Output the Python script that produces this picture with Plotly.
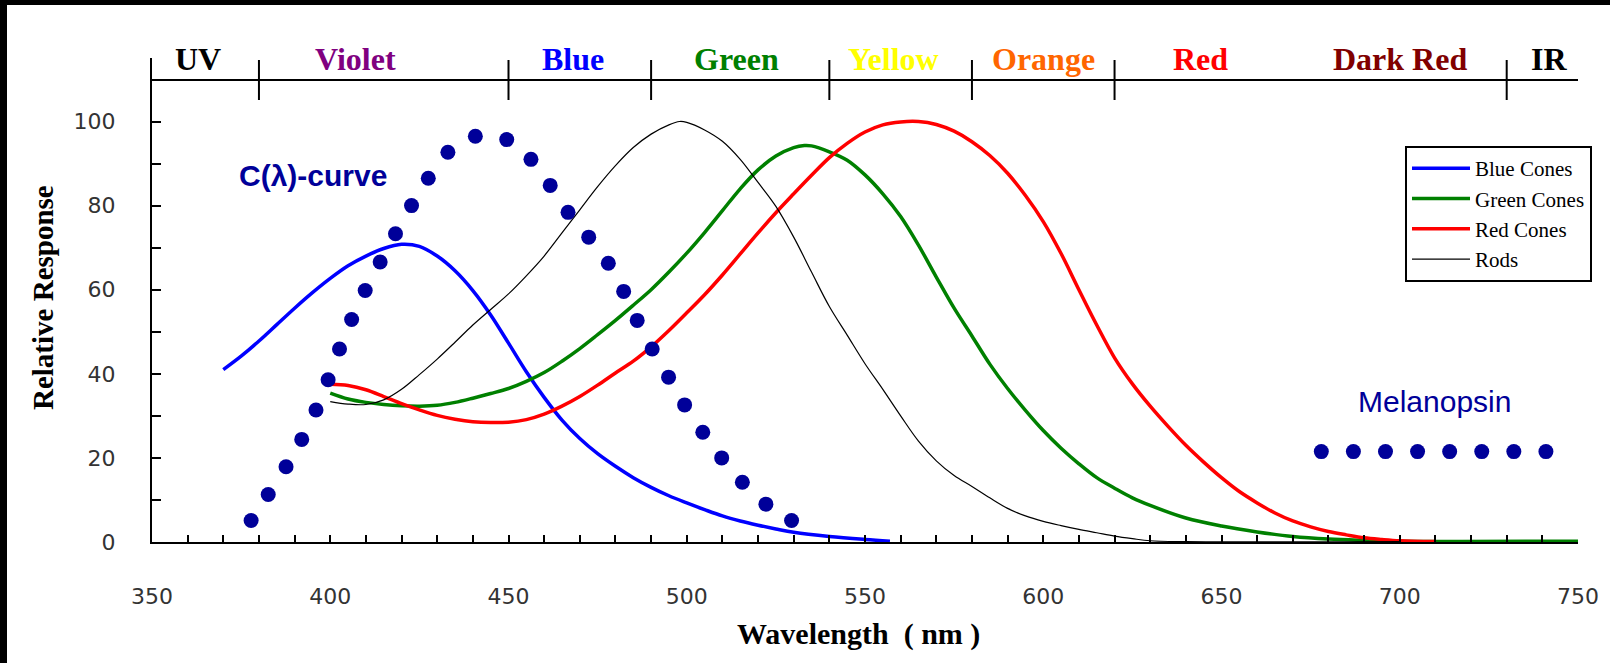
import plotly.graph_objects as go

# ---------------- data ----------------
blue_nm = [370, 375, 380, 385, 390, 395, 400, 405, 410, 415, 420, 425, 430, 435, 440, 445, 450, 455, 460, 465, 470, 475, 480, 485, 490, 495, 500, 505, 510, 515, 520, 525, 530, 540, 550, 557]
blue_val = [41.0, 44.2, 47.8, 51.7, 55.6, 59.3, 62.7, 65.7, 68.0, 69.8, 70.8, 70.3, 68.0, 64.5, 59.8, 54.0, 47.3, 40.5, 34.4, 29.0, 24.6, 21.0, 18.0, 15.3, 13.0, 11.0, 9.3, 7.7, 6.2, 5.0, 4.0, 3.1, 2.3, 1.3, 0.6, 0.2]

green_nm = [400, 405, 410, 415, 420, 425, 430, 435, 440, 445, 450, 455, 460, 465, 470, 475, 480, 485, 490, 495, 500, 505, 510, 515, 520, 525, 530, 533, 535, 540, 545, 550, 555, 560, 565, 570, 575, 580, 585, 590, 595, 600, 605, 610, 615, 620, 625, 630, 640, 650, 660, 670, 680, 690, 700, 750]
green_val = [35.4, 34.0, 33.2, 32.7, 32.4, 32.3, 32.5, 33.2, 34.2, 35.3, 36.5, 38.2, 40.3, 43.0, 46.0, 49.3, 52.7, 56.3, 60.0, 64.2, 68.7, 73.6, 78.8, 84.0, 88.5, 91.8, 93.8, 94.3, 94.2, 92.8, 90.8, 87.3, 82.8, 77.4, 70.6, 63.0, 55.6, 49.0, 42.3, 36.5, 31.3, 26.5, 22.3, 18.6, 15.3, 12.8, 10.5, 8.7, 5.7, 3.8, 2.4, 1.3, 0.7, 0.4, 0.2, 0.2]

red_nm = [400, 405, 410, 415, 420, 425, 430, 435, 440, 445, 450, 455, 460, 465, 470, 475, 480, 485, 490, 495, 500, 505, 510, 515, 520, 525, 530, 535, 540, 545, 550, 555, 560, 565, 570, 575, 580, 585, 590, 595, 600, 605, 610, 615, 620, 625, 630, 635, 640, 645, 650, 655, 660, 665, 670, 675, 680, 685, 690, 695, 700, 710]
red_val = [37.5, 37.2, 36.2, 34.6, 32.9, 31.4, 30.1, 29.2, 28.6, 28.4, 28.5, 29.1, 30.4, 32.3, 34.6, 37.3, 40.2, 43.0, 46.4, 50.3, 54.5, 58.8, 63.5, 68.5, 73.5, 78.3, 82.8, 87.2, 91.4, 94.8, 97.5, 99.2, 99.9, 100.0, 99.3, 97.7, 95.2, 91.9, 87.7, 82.4, 76.2, 68.6, 60.0, 51.6, 43.8, 37.6, 32.3, 27.5, 23.0, 19.0, 15.3, 12.0, 9.3, 6.9, 5.0, 3.6, 2.5, 1.7, 1.0, 0.6, 0.3, 0.1]

rods_nm = [400, 405, 410, 415, 420, 425, 430, 435, 440, 445, 450, 455, 460, 465, 470, 475, 480, 485, 490, 495, 498, 500, 505, 510, 515, 520, 525, 530, 535, 540, 545, 550, 555, 560, 565, 570, 575, 580, 585, 590, 595, 600, 605, 610, 615, 620, 625, 630, 640, 700]
rods_val = [33.4, 32.8, 32.7, 33.8, 36.3, 39.8, 43.5, 47.5, 51.6, 55.3, 59.0, 63.3, 68.0, 73.5, 79.0, 84.5, 89.5, 93.8, 97.0, 99.2, 100.0, 99.8, 98.0, 95.3, 91.0, 85.5, 79.8, 72.5, 64.2, 56.0, 49.2, 42.4, 36.3, 30.0, 24.0, 19.3, 15.8, 13.2, 10.5, 8.0, 6.2, 4.9, 3.9, 3.0, 2.2, 1.4, 0.8, 0.3, 0.1, 0.1]

c_curve_nm = [377.8, 382.6, 387.6, 392.0, 396.0, 399.4, 402.6, 406.0, 409.8, 414.0, 418.3, 422.8, 427.5, 433.0, 440.7, 449.5, 456.3, 461.7, 466.7, 472.5, 478.0, 482.3, 486.1, 490.3, 494.9, 499.4, 504.5, 509.8, 515.6, 522.2, 529.4]
c_curve_val = [5.1, 11.3, 17.9, 24.4, 31.4, 38.6, 45.9, 52.9, 59.8, 66.6, 73.3, 80.0, 86.5, 92.7, 96.5, 95.7, 91.0, 84.8, 78.4, 72.5, 66.3, 59.6, 52.7, 45.9, 39.2, 32.6, 26.1, 20.0, 14.2, 9.0, 5.1]

melanopsin_nm = [678, 687, 696, 705, 714, 723, 732, 741]
melanopsin_val = [21.5, 21.5, 21.5, 21.5, 21.5, 21.5, 21.5, 21.5]

band_names = ["UV", "Violet", "Blue", "Green", "Yellow", "Orange", "Red", "Dark Red", "IR"]
band_dividers = [380, 450, 490, 540, 580, 620, 730]
band_label_nm = [363, 407, 468, 514, 558, 600, 644, 700, 742]
band_colors = ["#000000", "#800080", "#0000FF", "#008000", "#FFFF00", "#FF6600", "#FF0000", "#800000", "#000000"]

x_ticks = list(range(350, 751, 10))
x_labels = [str(v) if v % 50 == 0 else "" for v in x_ticks]
y_ticks = list(range(0, 101, 10))
y_labels = [str(v) if v % 20 == 0 else "" for v in y_ticks]

# ---------------- layout geometry ----------------
W, H = 1610, 663
L, R, T, B = 152, 1578, 58, 542
PX_PER_UNIT = 4.205
Y_MAX = (B - T) / PX_PER_UNIT


def px_x(px):
    return (px - L) / (R - L)


def px_y(py):
    return (B - py) / (B - T)


NAVY = "#000099"
SM = 1.0
fig = go.Figure()

fig.add_trace(go.Scatter(x=blue_nm, y=blue_val, mode="lines", name="Blue Cones",
                         line=dict(color="#0000FF", width=3.5, shape="spline", smoothing=SM),
                         legendgroup="a"))
fig.add_trace(go.Scatter(x=green_nm, y=green_val, mode="lines", name="Green Cones",
                         line=dict(color="#008000", width=3.5, shape="spline", smoothing=SM),
                         legendgroup="b"))
fig.add_trace(go.Scatter(x=red_nm, y=red_val, mode="lines", name="Red Cones",
                         line=dict(color="#FF0000", width=3.5, shape="spline", smoothing=SM),
                         legendgroup="c"))
fig.add_trace(go.Scatter(x=rods_nm, y=rods_val, mode="lines", name="Rods",
                         line=dict(color="#000000", width=1.2, shape="spline", smoothing=SM),
                         legendgroup="d"))
fig.add_trace(go.Scatter(x=c_curve_nm, y=c_curve_val, mode="markers", showlegend=False,
                         marker=dict(color=NAVY, size=15)))
fig.add_trace(go.Scatter(x=melanopsin_nm, y=melanopsin_val, mode="markers", showlegend=False,
                         marker=dict(color=NAVY, size=15)))

shapes = []
# top band line
shapes.append(dict(type="line", xref="paper", yref="paper", x0=0, x1=1, y0=px_y(80), y1=px_y(80),
                   line=dict(color="black", width=2)))
for d in band_dividers:
    shapes.append(dict(type="line", xref="x", yref="paper", x0=d, x1=d, y0=px_y(100), y1=px_y(60),
                       line=dict(color="black", width=2)))
# black frame (left and top)
shapes.append(dict(type="rect", xref="paper", yref="paper", x0=px_x(0), x1=px_x(7), y0=px_y(H), y1=px_y(0),
                   fillcolor="black", line=dict(width=0), layer="above"))
shapes.append(dict(type="rect", xref="paper", yref="paper", x0=px_x(0), x1=px_x(W), y0=px_y(5), y1=px_y(0),
                   fillcolor="black", line=dict(width=0), layer="above"))

annotations = []
for name, xnm, col in zip(band_names, band_label_nm, band_colors):
    annotations.append(dict(x=xnm, y=px_y(59), xref="x", yref="paper", text="<b>%s</b>" % name,
                            showarrow=False, xanchor="center", yanchor="middle",
                            font=dict(family="Liberation Serif", size=32, color=col)))
annotations.append(dict(x=px_x(313), y=px_y(175), xref="paper", yref="paper", text="<b>C(λ)-curve</b>",
                        showarrow=False, xanchor="center", yanchor="middle",
                        font=dict(family="Liberation Sans", size=30, color=NAVY)))
annotations.append(dict(x=px_x(1434), y=px_y(401), xref="paper", yref="paper", text="Melanopsin",
                        showarrow=False, xanchor="center", yanchor="middle",
                        font=dict(family="Liberation Sans", size=30, color=NAVY)))
annotations.append(dict(x=px_x(43), y=px_y(298), xref="paper", yref="paper", text="<b>Relative Response</b>",
                        showarrow=False, xanchor="center", yanchor="middle", textangle=-90,
                        font=dict(family="Liberation Serif", size=29, color="black")))
annotations.append(dict(x=px_x(858), y=px_y(634), xref="paper", yref="paper",
                        text="<b>Wavelength\u00a0 (\u00a0nm\u00a0)</b>",
                        showarrow=False, xanchor="center", yanchor="middle",
                        font=dict(family="Liberation Serif", size=30, color="black")))

fig.update_layout(
    width=W, height=H,
    margin=dict(l=L, r=W - R, t=T, b=H - B, pad=0),
    paper_bgcolor="white", plot_bgcolor="white",
    showlegend=True,
    legend=dict(x=px_x(1405), y=px_y(146), xanchor="left", yanchor="top",
                bordercolor="black", borderwidth=2, bgcolor="white",
                font=dict(family="Liberation Serif", size=21, color="black"),
                tracegroupgap=18, itemwidth=58, traceorder="normal"),
    shapes=shapes, annotations=annotations,
)
fig.update_xaxes(range=[350, 750], tickmode="array", tickvals=x_ticks, ticktext=x_labels,
                 ticks="inside", ticklen=7, tickwidth=1.5, tickcolor="black",
                 showline=True, linecolor="black", linewidth=2, showgrid=False, zeroline=False,
                 ticklabelstandoff=34,
                 tickfont=dict(family="DejaVu Sans", size=22, color="#333333"))
fig.update_yaxes(range=[0, Y_MAX], tickmode="array", tickvals=y_ticks, ticktext=y_labels,
                 ticks="inside", ticklen=9, tickwidth=1.5, tickcolor="black",
                 showline=True, linecolor="black", linewidth=2, showgrid=False, zeroline=False,
                 ticklabelstandoff=30,
                 tickfont=dict(family="DejaVu Sans", size=22, color="#333333"))

fig.write_html("out.html", config={"displayModeBar": False},
               post_script="document.body.style.margin='0px';document.body.style.padding='0px';")
